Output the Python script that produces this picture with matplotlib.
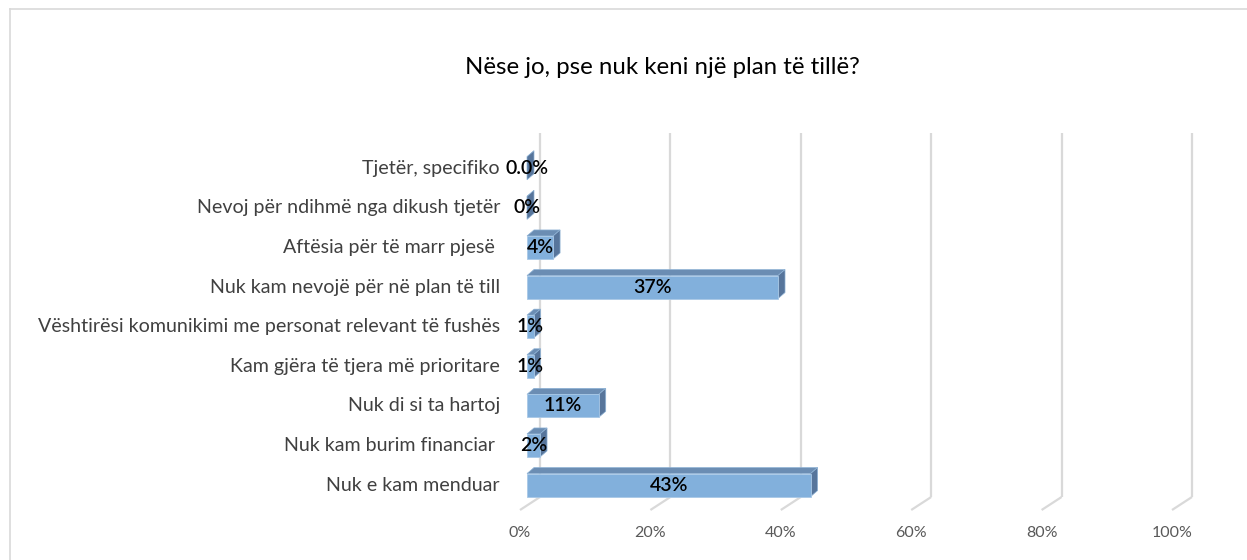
import matplotlib
matplotlib.use("Agg")
import matplotlib.pyplot as plt
from matplotlib.patches import Polygon, Rectangle

# DATA (bottom -> top as drawn)
categories = [
    "Nuk e kam menduar",
    "Nuk kam burim financiar ",
    "Nuk di si ta hartoj",
    "Kam gjëra të tjera më prioritare",
    "Vështirësi komunikimi me personat relevant të fushës",
    "Nuk kam nevojë për në plan të till",
    "Aftësia për të marr pjesë ",
    "Nevoj për ndihmë nga dikush tjetër",
    "Tjetër, specifiko",
]
values = [43.5, 2, 11, 1, 1, 38.5, 4, 0, 0]
value_labels = ["43%", "2%", "11%", "1%", "1%", "37%", "4%", "0%", "0.0%"]
xticks = [0, 20, 40, 60, 80, 100]
title = "Nëse jo, pse nuk keni një plan të tillë?"

plt.rcParams['font.family'] = ['Lato', 'DejaVu Sans']

W, H = 1247, 560
fig = plt.figure(figsize=(W / 100, H / 100), dpi=100)

# px per unit, used to size the axes box
px_x = 6.52      # px per 1 %
px_y = 39.6      # px per category
ybot, ytop = -0.63, 8.89
xmax = 104
ax = fig.add_axes([520 / W, 50 / H, xmax * px_x / W, (ytop - ybot) * px_y / H])
ax.set_xlim(0, xmax)
ax.set_ylim(ybot, ytop)
ax.axis("off")

# 3d depth of walls and bars (data units)
wall_dx, wall_dy = 20 / px_x, 13 / px_y
bar_x0 = 7 / px_x
bar_dx, bar_dy = 7 / px_x, 6 / px_y
bar_h = 23 / px_y

grid_col = "#D9D9D9"
for v in xticks:
    ax.plot([v, v + wall_dx], [ybot, ybot + wall_dy], color=grid_col, lw=1.6,
            solid_capstyle="butt", clip_on=False, zorder=1)
    ax.plot([v + wall_dx, v + wall_dx], [ybot + wall_dy, ytop], color=grid_col,
            lw=1.6, solid_capstyle="butt", clip_on=False, zorder=1)
    ax.text(v, ybot - 0.58, f"{v}%", ha="center", va="center", fontsize=11.5,
            color="#595959")

front_c, top_c, side_c = "#82B0DC", "#6B8DB3", "#57759B"
for i, (cat, v, lab) in enumerate(zip(categories, values, value_labels)):
    x0 = bar_x0
    x1 = bar_x0 + v
    y0 = i - bar_h / 2
    y1 = i + bar_h / 2
    # top face
    ax.add_patch(Polygon([(x0, y1), (x1, y1), (x1 + bar_dx, y1 + bar_dy),
                          (x0 + bar_dx, y1 + bar_dy)], closed=True, zorder=3,
                         facecolor=top_c, edgecolor="#8FB3D6", lw=0.5, clip_on=False))
    # side face
    ax.add_patch(Polygon([(x1, y0), (x1 + bar_dx, y0 + bar_dy),
                          (x1 + bar_dx, y1 + bar_dy), (x1, y1)], closed=True, zorder=3,
                         facecolor=side_c, edgecolor="#8FB3D6", lw=0.5, clip_on=False))
    # front face
    if v > 0:
        ax.add_patch(Rectangle((x0, y0), v, bar_h, facecolor=front_c, zorder=3,
                               edgecolor="#A9C8E6", lw=0.6, clip_on=False))
    ax.text(x0 + v / 2, i, lab, ha="center", va="center", fontsize=14,
            color="black", fontweight="semibold", zorder=5)
    ax.text(-20 / px_x, i, cat, ha="right", va="center", fontsize=14.1,
            color="#404040")

fig.text(662 / W, 1 - 68 / H, title, ha="center", va="center", fontsize=17.3,
         color="black")

# chart border (top and left visible)
fig.add_artist(plt.Line2D([10 / W, 10 / W], [0, 1 - 9 / H], transform=fig.transFigure,
                          color=grid_col, lw=1.2))
fig.add_artist(plt.Line2D([10 / W, 1], [1 - 9 / H, 1 - 9 / H], transform=fig.transFigure,
                          color=grid_col, lw=1.2))

fig.savefig("out.png", dpi=100, facecolor="white")
